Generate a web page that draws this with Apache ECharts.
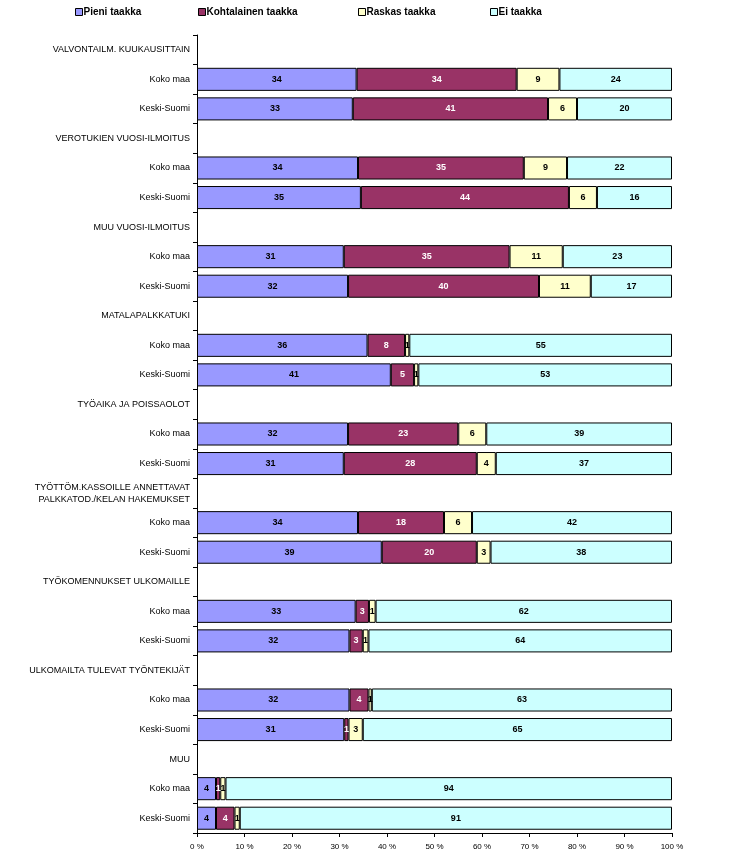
<!DOCTYPE html>
<html>
<head>
<meta charset="utf-8">
<script src="https://cdn.jsdelivr.net/npm/echarts@6/dist/echarts.min.js"></script>
<style>
html,body{margin:0;padding:0;background:#fff;}
#chart{width:731px;height:867px;}
</style>
</head>
<body>
<div id="chart"></div>
<script>
var categories = [
  'VALVONTAILM. KUUKAUSITTAIN', 'Koko maa', 'Keski-Suomi',
  'VEROTUKIEN VUOSI-ILMOITUS', 'Koko maa', 'Keski-Suomi',
  'MUU VUOSI-ILMOITUS', 'Koko maa', 'Keski-Suomi',
  'MATALAPALKKATUKI', 'Koko maa', 'Keski-Suomi',
  'TYÖAIKA JA POISSAOLOT', 'Koko maa', 'Keski-Suomi',
  'TYÖTTÖM.KASSOILLE ANNETTAVAT\nPALKKATOD./KELAN HAKEMUKSET', 'Koko maa', 'Keski-Suomi',
  'TYÖKOMENNUKSET ULKOMAILLE', 'Koko maa', 'Keski-Suomi',
  'ULKOMAILTA TULEVAT TYÖNTEKIJÄT', 'Koko maa', 'Keski-Suomi',
  'MUU', 'Koko maa', 'Keski-Suomi'
];
var pieni = [null, 33.6, 32.8, null, 33.9, 34.5, null, 30.9, 31.8, null, 35.9, 40.8, null, 31.8, 30.9, null, 33.9, 38.9, null, 33.4, 32.1, null, 32.1, 31.0, null, 4.0, 4.0];
var kohtalainen = [null, 33.7, 41.1, null, 34.9, 43.8, null, 34.9, 40.2, null, 7.9, 4.9, null, 23.2, 28.0, null, 18.1, 20.0, null, 2.8, 2.8, null, 4.0, 0.9, null, 0.9, 3.9];
var raskas = [null, 9.0, 6.1, null, 9.1, 5.9, null, 11.2, 10.9, null, 0.9, 0.9, null, 5.9, 4.0, null, 5.9, 2.9, null, 1.4, 1.2, null, 0.7, 3.0, null, 1.1, 1.1];
var ei = [null, 23.7, 20.0, null, 22.1, 15.8, null, 23.0, 17.1, null, 55.3, 53.4, null, 39.1, 37.1, null, 42.1, 38.2, null, 62.4, 63.9, null, 63.2, 65.1, null, 94.0, 91.0];
var seriesNames = ['Pieni taakka', 'Kohtalainen taakka', 'Raskas taakka', 'Ei taakka'];
var seriesColors = ['#9999FF', '#993366', '#FFFFCC', '#CCFFFF'];
var xTicks = [0, 10, 20, 30, 40, 50, 60, 70, 80, 90, 100];

var chart = echarts.init(document.getElementById('chart'));
var allData = [pieni, kohtalainen, raskas, ei];
var legendLefts = [75, 198, 358, 490];

function mkSeries(i) {
  return {
    name: seriesNames[i],
    type: 'bar',
    stack: 'total',
    barCategoryGap: '22%',
    data: allData[i],
    itemStyle: {color: seriesColors[i], borderColor: '#000', borderWidth: 1},
    label: {
      show: true,
      position: 'inside',
      fontFamily: 'Arial, Liberation Sans, sans-serif',
      fontSize: 9,
      fontWeight: 'bold',
      color: i === 1 ? '#fff' : '#000',
      formatter: function (p) { return p.value == null ? '' : Math.round(p.value); }
    },
    emphasis: {disabled: true},
    animation: false
  };
}

var legends = seriesNames.map(function (n, i) {
  return {
    data: [n],
    left: legendLefts[i],
    top: 7,
    padding: 0,
    icon: 'rect',
    itemWidth: 7,
    itemHeight: 7,
    itemGap: 2,
    itemStyle: {borderColor: '#000', borderWidth: 1},
    textStyle: {fontFamily: 'Liberation Sans Narrow, Arial Narrow, Arial, sans-serif', fontSize: 10, fontWeight: 'bold', color: '#000', padding: [0, 0, 0, -4]},
    selectedMode: false
  };
});

chart.setOption({
  animation: false,
  legend: legends,
  grid: {left: 197, right: 59, top: 35, bottom: 34, containLabel: false},
  xAxis: {
    type: 'value',
    min: 0,
    max: 100,
    interval: 10,
    axisLine: {show: true, lineStyle: {color: '#000', width: 1}},
    axisTick: {show: true, length: 4, lineStyle: {color: '#000'}},
    splitLine: {show: false},
    axisLabel: {
      fontFamily: 'Arial, Liberation Sans, sans-serif', fontSize: 8, color: '#000', margin: 10,
      formatter: function (v) { return xTicks.indexOf(v) >= 0 ? v + ' %' : ''; }
    }
  },
  yAxis: {
    type: 'category',
    inverse: true,
    data: categories,
    axisLine: {show: true, lineStyle: {color: '#000', width: 1}},
    axisTick: {show: true, length: 4, lineStyle: {color: '#000'}},
    axisLabel: {fontFamily: 'Arial, Liberation Sans, sans-serif', fontSize: 9, color: '#000', margin: 7, lineHeight: 12}
  },
  series: [mkSeries(0), mkSeries(1), mkSeries(2), mkSeries(3)]
});
</script>
</body>
</html>
